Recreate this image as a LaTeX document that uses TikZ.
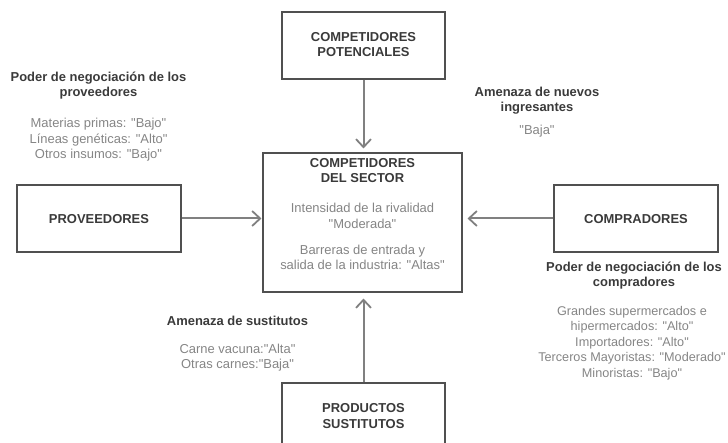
\documentclass[tikz,border=0pt]{standalone}
\usepackage{fontspec}
\setmainfont{Liberation Sans}[Ligatures=TeXOff]
\usetikzlibrary{arrows.meta}
\definecolor{dark}{HTML}{3A3A3A}
\definecolor{greytxt}{HTML}{858585}
\definecolor{arrowgrey}{HTML}{808080}
\definecolor{boxline}{HTML}{505050}
\begin{document}
\begin{tikzpicture}[x=1bp,y=-1bp,
  every node/.style={font=\fontsize{13}{15.5}\selectfont, inner sep=0pt, align=center},
  box/.style={draw=boxline, line width=1.1bp, fill=white},
  title/.style={text=dark, font=\fontsize{13}{15.5}\selectfont\bfseries},
  info/.style={text=greytxt},
  conn/.style={draw=arrowgrey, line width=2bp, -{Straight Barb[length=8bp,width=15bp,line width=1.8bp]}}
]
\useasboundingbox (0,0) rectangle (728,443);
% boxes
\node[box, minimum width=163bp, minimum height=67bp] (top) at (363.5,45.5) {};
\node[box, minimum width=199bp, minimum height=139bp] (center) at (362.5,222.5) {};
\node[box, minimum width=164bp, minimum height=67bp] (prov) at (99,218.5) {};
\node[box, minimum width=164bp, minimum height=67bp] (comp) at (636,218.5) {};
\node[box, minimum width=163bp, minimum height=80bp] (bot) at (363.5,423) {};
% box texts
\node[title] (toptxt) at (363.5,44.5) {COMPETIDORES\\POTENCIALES};
\node[title] (centertitle) at (362.5,170.5) {COMPETIDORES\\DEL SECTOR};
\node[info] (rival) at (362.5,216) {Intensidad de la rivalidad\\"Moderada"};
\node[info] (barr) at (362.5,257.5) {Barreras de entrada y\\salida de la industria: "Altas"};
\node[title] (provtxt) at (99,219) {PROVEEDORES};
\node[title] (comptxt) at (636,219) {COMPRADORES};
\node[title] (bottxt) at (363.5,416) {PRODUCTOS\\SUSTITUTOS};
% outer texts
\node[title] (provhead) at (98.5,85.5) {Poder de negociación de los\\proveedores};
\node[info] (provinfo) at (98.5,140) {Materias primas: "Bajo"\\Líneas genéticas: "Alto"\\Otros insumos: "Bajo"};
\node[title] (nuevhead) at (537,100.5) {Amenaza de nuevos\\ingresantes};
\node[info] (nuevinfo) at (537,131) {"Baja"};
\node[title] (comphead) at (634,275.5) {Poder de negociación de los\\compradores};
\node[info, font=\fontsize{12.7}{15.5}\selectfont] (compinfo) at (632,343) {Grandes supermercados e\\hipermercados: "Alto"\\Importadores: "Alto"\\Terceros Mayoristas: "Moderado"\\Minoristas: "Bajo"};
\node[title] (susthead) at (237.5,321) {Amenaza de sustitutos};
\node[info] (sustinfo) at (237.5,357.5) {Carne vacuna:"Alta"\\Otras carnes:"Baja"};
% connectors
\draw[conn, shorten >=4bp] (top.south) -- (top.south |- center.north);
\draw[conn, shorten >=6bp] (bot.north) -- (bot.north |- center.south);
\draw[conn, shorten >=1bp] (prov.east) -- (prov.east -| center.west);
\draw[conn, shorten >=5bp] (comp.west) -- (comp.west -| center.east);
\end{tikzpicture}
\end{document}
